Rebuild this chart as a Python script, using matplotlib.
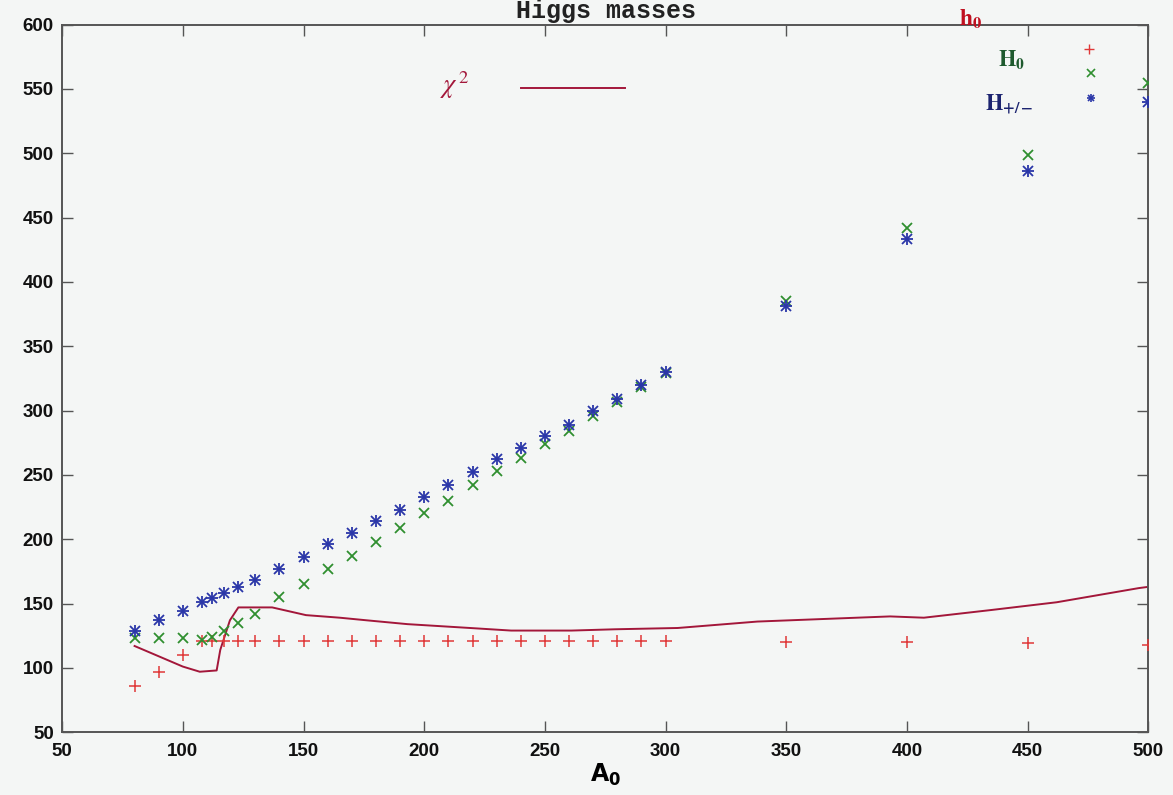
import matplotlib
matplotlib.use("Agg")
import matplotlib.pyplot as plt

# A0 scan points and the three Higgs masses at each
a0 = [80, 90, 100, 108, 112, 117, 123, 130, 140, 150, 160, 170, 180, 190, 200,
      210, 220, 230, 240, 250, 260, 270, 280, 290, 300, 350, 400, 450, 500]
m_h0 = [86, 97, 110, 121, 121, 121, 121, 121, 121, 121, 121, 121, 121, 121, 121,
        121, 121, 121, 121, 121, 121, 121, 121, 121, 121, 120, 120, 119, 118]
m_H0 = [123, 123, 123, 122, 124, 129, 135, 142, 155, 165, 177, 187, 198, 209, 220,
        230, 242, 253, 263, 274, 284, 296, 307, 318, 329, 385, 442, 499, 555]
m_Hpm = [129, 137, 144, 151, 154, 158, 163, 168, 177, 186, 196, 205, 214, 223, 233,
         242, 252, 262, 271, 280, 289, 300, 309, 320, 330, 381, 433, 486, 540]

# rescaled chi^2 curve
chi_x = [80, 90, 100, 107, 114, 115.5, 119.5, 123, 137, 144, 151, 165, 176, 193,
         219, 236, 261, 279, 305, 338, 393, 407, 435, 462, 496, 500]
chi_y = [117, 109, 101, 97, 98, 114, 137, 147, 147, 144, 141, 139, 137, 134,
         131, 129, 129, 130, 131, 136, 140, 139, 145, 151, 162, 163]

xticks = list(range(50, 501, 50))
yticks = list(range(50, 601, 50))

RED = "#e03838"
GREEN = "#2f8f2f"
BLUE = "#2a36a8"
CHI = "#a3173a"
BG = "#f4f6f5"

plt.rcParams["mathtext.fontset"] = "stix"

fig = plt.figure(figsize=(11.73, 7.95), dpi=100, facecolor=BG)
ax = fig.add_axes([0.053, 0.079, 0.926, 0.890], facecolor=BG)

ax.plot(chi_x, chi_y, color=CHI, lw=1.4, zorder=2)
ax.plot(a0, m_h0, ls="none", marker="+", ms=8, mew=1.1, color=RED, zorder=3)
ax.plot(a0, m_H0, ls="none", marker="x", ms=7, mew=1.3, color=GREEN, zorder=3)
ax.plot(a0, m_Hpm, ls="none", marker="+", ms=8, mew=1.3, color=BLUE, zorder=4)
ax.plot(a0, m_Hpm, ls="none", marker="x", ms=7, mew=1.3, color=BLUE, zorder=4)

ax.set_xlim(50, 500)
ax.set_ylim(50, 600)
ax.set_xticks(xticks)
ax.set_yticks(yticks)
ax.tick_params(direction="in", length=8, width=1.0, top=True, right=True,
               colors="#555555", labelcolor="#111111")
ax.tick_params(axis="x", pad=8)
ax.tick_params(axis="y", pad=6)
for lab in ax.get_xticklabels() + ax.get_yticklabels():
    lab.set_fontfamily("Liberation Sans")
    lab.set_fontweight("bold")
    lab.set_fontsize(13.5)
for sp in ax.spines.values():
    sp.set_color("#555555")
    sp.set_linewidth(1.4)

ax.set_xlabel(r"$\mathbf{A_0}$", fontsize=17, labelpad=1, math_fontfamily="dejavusans")

# key
ax.text(0.348, 0.915, r"$\chi^{\,2}$", transform=ax.transAxes, color=CHI,
        fontsize=19, ha="left", va="center")
ax.plot([0.422, 0.518], [0.911, 0.911], transform=ax.transAxes, color=CHI, lw=1.4)
ax.text(0.826, 1.008, r"$\mathbf{h_0}$", transform=ax.transAxes, color="#c01020",
        fontsize=17, ha="left", va="center", clip_on=False)
ax.text(0.862, 0.950, r"$\mathbf{H_0}$", transform=ax.transAxes, color="#1e5a2e",
        fontsize=16, ha="left", va="center")
ax.text(0.850, 0.888, r"$\mathbf{H_{+/-}}$", transform=ax.transAxes, color="#1c2470",
        fontsize=16, ha="left", va="center")
ax.plot([0.945], [0.965], transform=ax.transAxes, marker="+", ms=7, mew=1.0, color=RED)
ax.plot([0.947], [0.931], transform=ax.transAxes, marker="x", ms=6, mew=1.2, color=GREEN)
ax.plot([0.947], [0.897], transform=ax.transAxes, marker="+", ms=6, mew=1.2, color=BLUE)
ax.plot([0.947], [0.897], transform=ax.transAxes, marker="x", ms=5, mew=1.2, color=BLUE)

fig.text(0.517, 0.977, "Higgs masses", family="Liberation Mono", fontweight="bold",
         fontsize=18, ha="center", va="baseline", color="#222222")

fig.savefig("out.png", dpi=100, facecolor=BG)
